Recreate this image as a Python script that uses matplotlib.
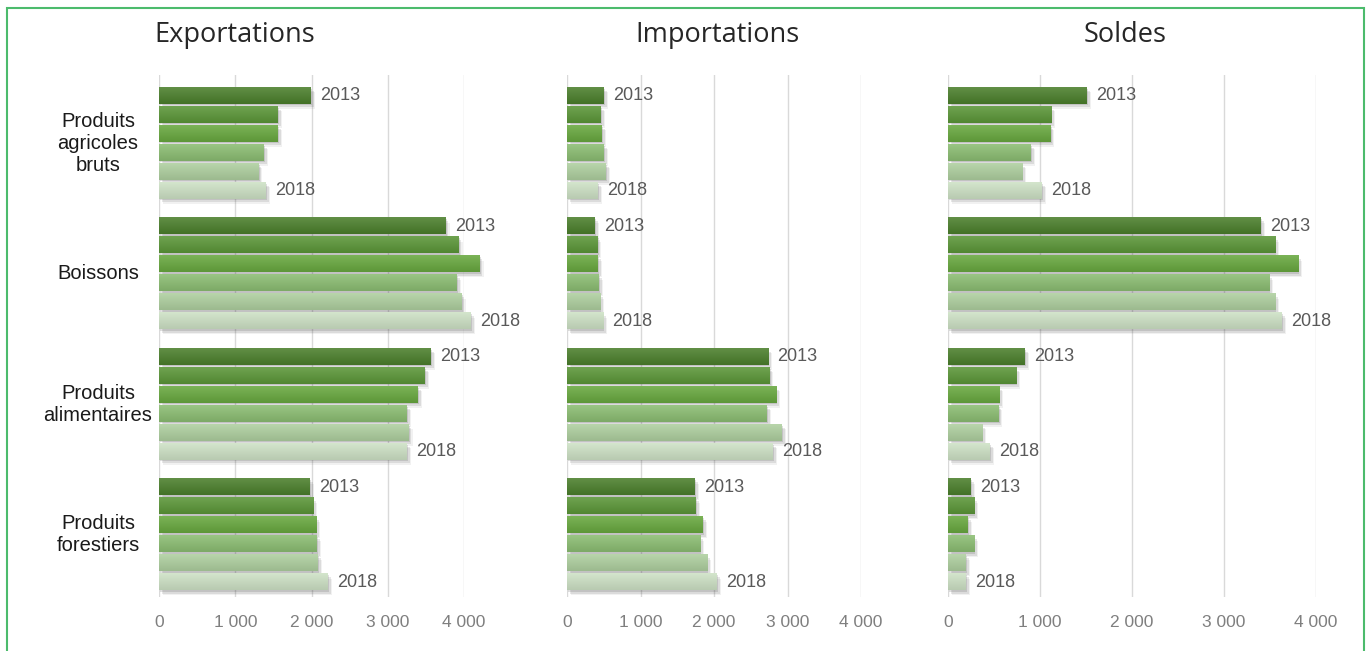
import numpy as np
import matplotlib.pyplot as plt
import matplotlib.patheffects as pe
from matplotlib.colors import to_rgb
from matplotlib.patches import Rectangle
from matplotlib.transforms import blended_transform_factory

# valeurs (millions d'euros), 2013 -> 2018
categories = ["Produits\nagricoles\nbruts", "Boissons", "Produits\nalimentaires", "Produits\nforestiers"]
years = ["2013", "2014", "2015", "2016", "2017", "2018"]

exportations = [
    [1990, 1560, 1560, 1375, 1300, 1400],
    [3760, 3930, 4205, 3905, 3970, 4090],
    [3565, 3485, 3395, 3250, 3275, 3250],
    [1980, 2020, 2060, 2070, 2085, 2215],
]
importations = [
    [500, 460, 475, 500, 530, 420],
    [380, 410, 420, 435, 450, 490],
    [2735, 2750, 2845, 2720, 2925, 2800],
    [1740, 1755, 1850, 1810, 1905, 2040],
]
soldes = [
    [1510, 1120, 1110, 900, 805, 1020],
    [3400, 3555, 3805, 3490, 3555, 3630],
    [835, 740, 555, 545, 370, 455],
    [250, 283, 217, 283, 195, 195],
]

titles = ["Exportations", "Importations", "Soldes"]
ticks = [0, 1000, 2000, 3000, 4000]
tick_labels = ["0", "1 000", "2 000", "3 000", "4 000"]
colors = ["#4b7f2c", "#5b9638", "#68a83f", "#8bbd72", "#aecf9f", "#cde1c5"]

W, H = 1370, 651
fig = plt.figure(figsize=(W / 100, H / 100), dpi=100)

# panel positions in pixels: x of 0 and x of 4000, plus title centre
panels = [(159, 464, 235), (567, 861, 717), (948, 1316, 1125)]
top_px, bot_px = 75, 597
group_step = 6.87
bar_h = 0.88
ytop = -1.08
ybot = ytop + (bot_px - top_px) / 19.0

shadow = [pe.SimplePatchShadow(offset=(1, -1), alpha=0.16, shadow_rgbFace="#404040"),
          pe.SimplePatchShadow(offset=(2, -2.5), alpha=0.12, shadow_rgbFace="#404040"),
          pe.SimplePatchShadow(offset=(3, -3.5), alpha=0.07, shadow_rgbFace="#404040"),
          pe.Normal()]


def gradient(c):
    c = np.array(to_rgb(c))
    top = c + (1 - c) * 0.12
    bot = c * 0.9
    t = np.linspace(0, 1, 16)[:, None]
    return (top * (1 - t) + bot * t)[:, None, :]


axes = []
for (x0, x4, xt), data, title in zip(panels, [exportations, importations, soldes], titles):
    ax = fig.add_axes([x0 / W, 1 - bot_px / H, (x4 - x0) / W, (bot_px - top_px) / H])
    axes.append(ax)
    for g, vals in enumerate(data):
        for i, v in enumerate(vals):
            y = g * group_step + i
            b = ax.barh(y, v, height=bar_h, color=colors[i], zorder=3, clip_on=False)
            b[0].set_path_effects(shadow)
            ax.imshow(gradient(colors[i]), extent=(0, v, y + bar_h / 2, y - bar_h / 2),
                      aspect="auto", zorder=4, interpolation="bilinear", clip_on=False)
            if i in (0, 5):
                ax.annotate(years[i], (v, y), xytext=(9, 0), textcoords="offset pixels",
                            va="center", ha="left", fontsize=13, color="#595959",
                            family="Liberation Sans", annotation_clip=False)
    ax.set_xlim(0, 4000)
    ax.set_ylim(ybot, ytop)
    ax.set_xticks(ticks)
    ax.set_xticklabels(tick_labels, fontsize=12.5, color="#7f7f7f", family="Liberation Sans")
    ax.set_yticks([])
    ax.tick_params(axis="x", length=0, pad=13)
    ax.grid(axis="x", color="#d9d9d9", linewidth=1, zorder=0)
    for s in ax.spines.values():
        s.set_visible(False)
    ax.set_facecolor("none")
    fig.text(xt / W, 1 - 35 / H, title, ha="center", va="center",
             fontsize=19.5, family="Open Sans", color="#262626")

trans = blended_transform_factory(fig.transFigure, axes[0].transData)
for g, cat in enumerate(categories):
    axes[0].text(98 / W, g * group_step + 2.5, cat, transform=trans, ha="center", va="center",
                 fontsize=14.5, family="Liberation Sans", linespacing=1.2, color="#1a1a1a")

# green frame
fig.patches.append(Rectangle((7 / W, -0.05), (1364 - 7) / W, 1.05 - 8 / H, transform=fig.transFigure,
                             fill=False, edgecolor="#4cbb6c", linewidth=1.5))

fig.savefig("out.png", dpi=100)
